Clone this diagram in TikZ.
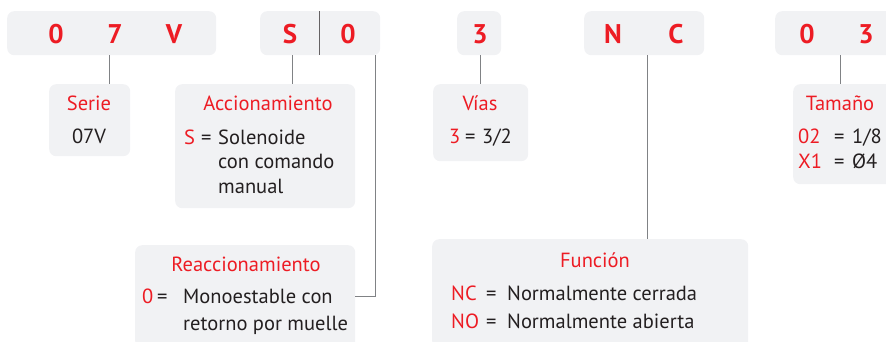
\documentclass[tikz,border=0pt]{standalone}
\usepackage{fontspec}
\setmainfont{PT Sans}
\definecolor{codered}{HTML}{ED1C24}
\definecolor{boxgray}{HTML}{F1F2F4}
\definecolor{linegray}{HTML}{808285}
\definecolor{txtdark}{HTML}{231F20}

\begin{document}
\begin{tikzpicture}[x=1pt,y=-1pt,
  box/.style={fill=boxgray, rounded corners=7pt, inner sep=0pt, anchor=north west},
  digit/.style={text=codered, font=\fontsize{27}{27}\selectfont\bfseries, inner sep=0pt, anchor=base},
  title/.style={text=codered, font=\fontsize{20.5}{20.5}\selectfont, inner sep=0pt, anchor=base},
  key/.style={text=codered, font=\fontsize{20.5}{20.5}\selectfont, inner sep=0pt, anchor=base west},
  body/.style={text=txtdark, font=\fontsize{20.5}{20.5}\selectfont, inner sep=0pt, anchor=base west},
  wire/.style={draw=linegray, line width=0.9pt}]
\useasboundingbox (0,0) rectangle (886,341);

% --- code boxes ---
\node[box, minimum width=209, minimum height=44] (cSerie) at (7,11) {};
\node[box, minimum width=120, minimum height=44] (cAcc) at (260,11) {};
\node[box, minimum width=44, minimum height=44] (cVias) at (457,11) {};
\node[box, minimum width=120, minimum height=44] (cFunc) at (584,11) {};
\node[box, minimum width=125, minimum height=44] (cTam) at (775,11) {};
\draw[draw=txtdark!70, line width=0.9pt] (cAcc.north -| 319,0) -- (cAcc.south -| 319,0);

\node[digit] (d1) at (56,43) {0};
\node[digit] (d2) at (115,43) {7};
\node[digit] (d3) at (174,43) {V};
\node[digit] (d4) at (290,43) {S};
\node[digit] (d5) at (348,43) {0};
\node[digit] (d6) at (480,43) {3};
\node[digit] (d7) at (613,43) {N};
\node[digit] (d8) at (676,43) {C};
\node[digit] (d9) at (807,43) {0};
\node[digit] (d10) at (866,43) {3};

% --- info boxes ---
\node[box, minimum width=81, minimum height=72] (serie) at (49,84) {};
\node[box, minimum width=180, minimum height=124] (accion) at (175,84) {};
\node[box, minimum width=95, minimum height=77] (vias) at (433,84) {};
\node[box, minimum width=100, minimum height=100] (tamano) at (793,84) {};
\node[box, minimum width=220, minimum height=103] (reacc) at (135,245) {};
\node[box, minimum width=316, minimum height=109] (funcion) at (432,239) {};

% serie
\node[title] (tSerie) at (89,110) {Serie};
\node[body, anchor=base] (vSerie) at (89,143) {07V};

% accionamiento
\node[title] (tAcc) at (268,110) {Accionamiento};
\node[key] (kS) at (184,144) {S};
\node[body] (eS) at (201,144) {=};
\node[body] (vS1) at (218,144) {Solenoide};
\node[body] (vS2) at (218,168) {con comando};
\node[body] (vS3) at (218,193) {manual};

% vias
\node[title] (tVias) at (480,110) {Vías};
\node[key] (k3) at (449,143) {3};
\node[body] (e3) at (465,143) {=};
\node[body] (v3) at (482,143) {3/2};

% tamano
\node[title] (tTam) at (840,110) {Tamaño};
\node[key] (k02) at (798,143) {02};
\node[body] (e02) at (834,143) {=};
\node[body] (v02) at (852,143) {1/8};
\node[key] (kX1) at (798,168) {X1};
\node[body] (eX1) at (834,168) {=};
\node[body] (vX1) at (852,168) {Ø4};

% reaccionamiento
\node[title] (tRe) at (246,271) {Reaccionamiento};
\node[key] (k0) at (142,303) {0};
\node[body] (e0) at (157,303) {=};
\node[body] (v01) at (183,303) {Monoestable con};
\node[body] (v02b) at (183,330) {retorno por muelle};

% funcion
\node[title] (tFun) at (595,267) {Función};
\node[key] (kNC) at (451,300) {NC};
\node[body] (eNC) at (486,300) {=};
\node[body] (vNC) at (507,300) {Normalmente cerrada};
\node[key] (kNO) at (451,328) {NO};
\node[body] (eNO) at (486,328) {=};
\node[body] (vNO) at (507,328) {Normalmente abierta};

% --- connectors ---
\coordinate (pSerie) at (109,55);
\coordinate (pAcc) at (292,55);
\coordinate (pRe) at (375,55);
\coordinate (pVias) at (480,55);
\coordinate (pFun) at (647,55);
\coordinate (pTam) at (840,55);
\draw[wire] (pSerie) -- (pSerie |- serie.north);
\draw[wire] (pAcc) -- (pAcc |- accion.north);
\draw[wire] (pRe) |- (reacc.east);
\draw[wire] (pVias) -- (pVias |- vias.north);
\draw[wire] (pFun) -- (pFun |- funcion.north);
\draw[wire] (pTam) -- (pTam |- tamano.north);
\end{tikzpicture}
\end{document}
